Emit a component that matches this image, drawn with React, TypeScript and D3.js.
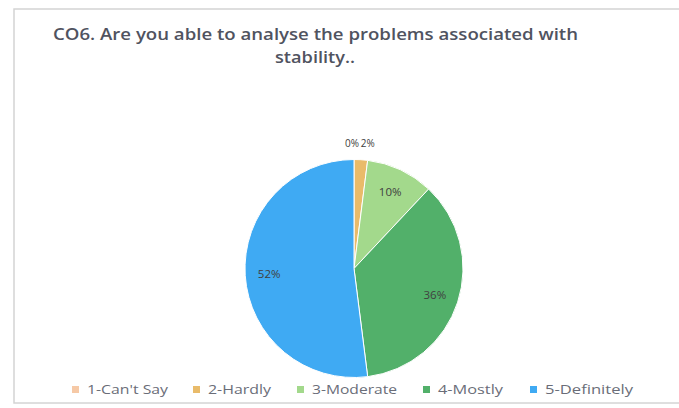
import React from "react";
import * as d3 from "d3";

const categories = ["1-Can't Say", "2-Hardly", "3-Moderate", "4-Mostly", "5-Definitely"];
const values = [0, 2, 10, 36, 52];
const colors = ["#f6c9a6", "#e9bb6a", "#a3d98c", "#52b06a", "#3faaf3"];
const titleLines = ["CO6. Are you able to analyse the problems associated with", "stability.."];
const legendWidths = [81, 63, 85, 65, 88];

export default function App() {
  const W = 679, H = 408;
  const cx = 354, cy = 268.5, R = 109;
  const pie = d3.pie<number>().sort(null).value((d) => d);
  const arcs = pie(values);
  const arc = d3.arc<d3.PieArcDatum<number>>().innerRadius(0).outerRadius(R);
  const total = d3.sum(values);
  const legendX = [72, 193, 297, 423, 530];
  const font = "'Open Sans', 'Liberation Sans', sans-serif";
  return (
    <svg width={W} height={H} style={{ position: "absolute", left: 0, top: 0, background: "#fff" }}>
      <rect x={14} y={9} width={700} height={394} fill="#fff" stroke="#d4d4d4" strokeWidth={1.5} />
      <g fontFamily={font} fill="#50535f" fontWeight={600} fontSize={17}>
        <text x={53} y={40} textLength={525} lengthAdjust="spacingAndGlyphs">{titleLines[0]}</text>
        <text x={275} y={63} textLength={80} lengthAdjust="spacingAndGlyphs">{titleLines[1]}</text>
      </g>
      <g transform={`translate(${cx},${cy})`}>
        {arcs.map((a, i) => (
          <path key={i} d={arc(a) || ""} fill={colors[i]} stroke="#fff" strokeWidth={a.value > 0 ? 1 : 0} />
        ))}
        {arcs.map((a, i) => {
          const mid = (a.startAngle + a.endAngle) / 2;
          const pct = a.value / total;
          const small = pct < 0.05;
          const r = small ? R * 1.15 : R * 0.78;
          const x = Math.sin(mid) * r;
          const y = -Math.cos(mid) * r;
          const anchor = small ? (a.value === 0 ? "end" : "start") : "middle";
          return (
            <text key={"l" + i} x={x + (small ? (a.value === 0 ? 5 : -1) : 0)} y={y} dy="0.35em" textAnchor={anchor}
              fontFamily={font} fontSize={small ? 10 : 11.5} fill="#404040">
              {Math.round(pct * 100)}%
            </text>
          );
        })}
      </g>
      <g fontFamily={font} fontSize={12} fill="#6a6d78">
        {categories.map((c, i) => (
          <g key={c} transform={`translate(${legendX[i]},390)`}>
            <rect x={0} y={-4} width={7} height={7} fill={colors[i]} />
            <text x={15} y={0} dy="0.35em" textLength={legendWidths[i]} lengthAdjust="spacingAndGlyphs">{c}</text>
          </g>
        ))}
      </g>
    </svg>
  );
}
